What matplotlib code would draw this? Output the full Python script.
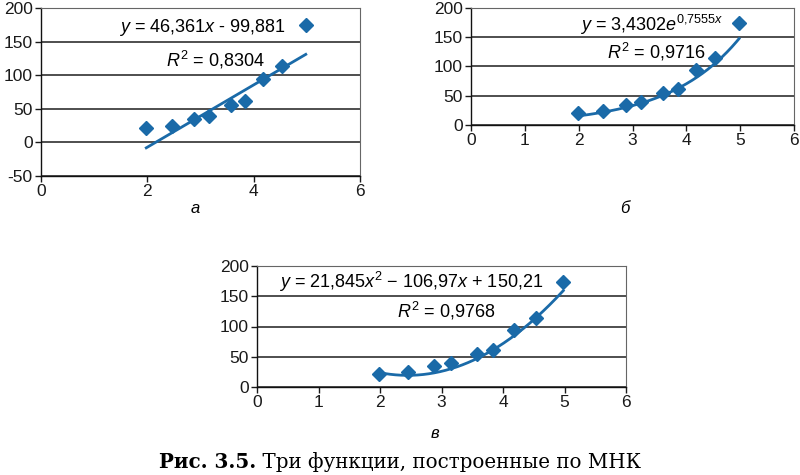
import numpy as np
import matplotlib
matplotlib.use("Agg")
import matplotlib.pyplot as plt

plt.rcParams['font.family'] = ['Liberation Sans', 'DejaVu Sans']
plt.rcParams['mathtext.fontset'] = 'custom'
plt.rcParams['mathtext.rm'] = 'Liberation Sans'
plt.rcParams['mathtext.it'] = 'Liberation Sans:italic'
plt.rcParams['axes.unicode_minus'] = False

# data
x_data = [1.98, 2.46, 2.88, 3.16, 3.57, 3.84, 4.18, 4.54, 4.98]
y_data = [21, 24, 35, 39, 55, 61, 94, 114, 174]

# trend line coefficients (from the labels)
lin_coef = [46.361, -99.881]
exp_coef = [3.4302, 0.7555]
quad_coef = [21.845, -106.97, 150.21]

panel_labels = ['а', 'б', 'в']
eq_texts = [r'$y$ = 46,361$x$ - 99,881',
            r'$y$ = 3,4302$e^{0{,}7555x}$',
            r'$y$ = 21,845$x^2$ − 106,97$x$ + 150,21']
r2_texts = [r'$R^2$ = 0,8304', r'$R^2$ = 0,9716', r'$R^2$ = 0,9768']
caption_bold = 'Рис. 3.5.'
caption_rest = ' Три функции, построенные по МНК'

blue = '#1a6aa8'
W, H = 800, 475
fig = plt.figure(figsize=(8, 4.75), dpi=100)

def px_axes(l, t, r, b):
    return fig.add_axes([l / W, 1 - b / H, (r - l) / W, (b - t) / H])

axA = px_axes(41, 8, 360, 176)
axB = px_axes(471, 8, 794, 125)
axV = px_axes(257, 266, 626, 387)

def style(ax, ylim, yticks, xticks):
    ax.set_xlim(0, 6)
    ax.set_ylim(*ylim)
    ax.set_yticks(yticks)
    ax.set_xticks(xticks)
    ax.grid(axis='y', color='#1e1e1e', linewidth=1.1)
    ax.set_axisbelow(True)
    for s in ['top', 'right']:
        ax.spines[s].set_color('#666666')
        ax.spines[s].set_linewidth(0.8)
    for s in ['left', 'bottom']:
        ax.spines[s].set_color('#111111')
        ax.spines[s].set_linewidth(1.0)
    ax.tick_params(axis='both', labelsize=12.5, colors='#1a1a1a', length=4, width=1,
                   pad=2)

style(axA, (-50, 200), np.arange(-50, 201, 50), [0, 2, 4, 6])
style(axB, (0, 200), np.arange(0, 201, 50), np.arange(0, 7, 1))
style(axV, (0, 200), np.arange(0, 201, 50), np.arange(0, 7, 1))

xs = np.linspace(min(x_data), max(x_data), 200)
curves = [np.polyval(lin_coef, xs),
          exp_coef[0] * np.exp(exp_coef[1] * xs),
          np.polyval(quad_coef, xs)]

for ax, yc in zip([axA, axB, axV], curves):
    ax.plot(xs, yc, color=blue, linewidth=2, zorder=3)
    ax.plot(x_data, y_data, linestyle='none', marker='D', markersize=7,
            color=blue, zorder=4)

fs = 13
fig.text(202 / W, 1 - 27 / H, eq_texts[0], ha='center', va='center', fontsize=fs)
fig.text(215 / W, 1 - 60 / H, r2_texts[0], ha='center', va='center', fontsize=fs)
fig.text(652 / W, 1 - 25 / H, eq_texts[1], ha='center', va='center', fontsize=fs)
fig.text(656 / W, 1 - 52 / H, r2_texts[1], ha='center', va='center', fontsize=fs)
fig.text(411 / W, 1 - 282 / H, eq_texts[2], ha='center', va='center', fontsize=fs)
fig.text(446 / W, 1 - 311 / H, r2_texts[2], ha='center', va='center', fontsize=fs)

# panel labels
for (px, py), lab in zip([(195, 208), (625, 208), (435, 433)], panel_labels):
    fig.text(px / W, 1 - py / H, lab, ha='center', va='center', fontsize=12,
             style='italic')

# caption
fig.canvas.draw()
r = fig.canvas.get_renderer()
t1 = fig.text(0, 1 - 462 / H, caption_bold, ha='left', va='center', fontsize=14.3,
              family='DejaVu Serif', weight='bold')
t2 = fig.text(0, 1 - 462 / H, caption_rest, ha='left', va='center', fontsize=14.3,
              family='DejaVu Serif')
w1 = t1.get_window_extent(r).width
w2 = t2.get_window_extent(r).width
x0 = 400 - (w1 + w2) / 2
t1.set_x(x0 / W)
t2.set_x((x0 + w1) / W)

fig.savefig('out.png', dpi=100)
